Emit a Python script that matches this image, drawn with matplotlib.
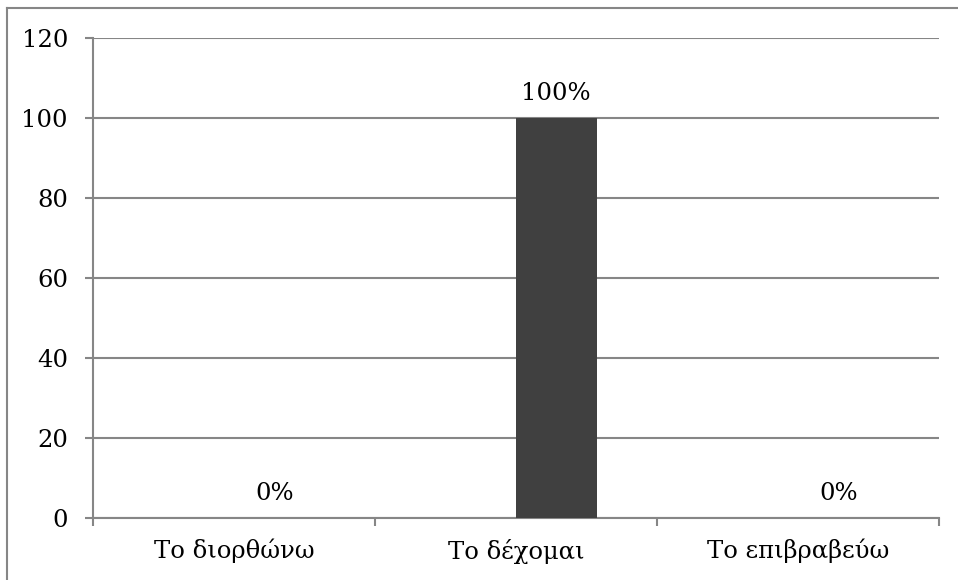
import matplotlib
matplotlib.use("Agg")
import matplotlib.pyplot as plt
from matplotlib.lines import Line2D

categories = ["Το διορθώνω", "Το δέχομαι", "Το επιβραβεύω"]
values = [0, 100, 0]
value_labels = ["0%", "100%", "0%"]
y_ticks = [0, 20, 40, 60, 80, 100, 120]

plt.rcParams["font.family"] = ["DejaVu Serif"]

W, H = 958, 580
FS = 17.5
fig = plt.figure(figsize=(W / 100, H / 100), dpi=100)
ax = fig.add_axes([93 / W, 1 - 518 / H, (939 - 93) / W, (518 - 38) / H])

grey = "#868686"
bar_w = 1 / 3.5
offset = bar_w / 2
xs = [i + offset for i in range(len(categories))]

ax.bar(xs, values, width=bar_w, color="#404040", zorder=3)
for x, v, lab in zip(xs, values, value_labels):
    ax.annotate(lab, (x, v), xytext=(0, 18), textcoords="offset points",
                ha="center", va="center", fontsize=FS, color="black")

ax.set_xlim(-0.5, len(categories) - 0.5)
ax.set_ylim(0, 120)
ax.set_yticks(y_ticks)
ax.set_yticklabels([str(t) for t in y_ticks], fontsize=FS)
ax.yaxis.grid(True, color=grey, linewidth=1.5, zorder=0)
ax.set_axisbelow(True)

# category labels centred, tick marks on category boundaries
ax.set_xticks(range(len(categories)))
ax.set_xticklabels(categories, fontsize=FS)
ax.tick_params(axis="x", which="major", length=0, pad=15)
ax.set_xticks([i - 0.5 for i in range(len(categories) + 1)], minor=True)
ax.tick_params(axis="x", which="minor", length=6, width=1.5, color=grey)
ax.tick_params(axis="y", length=6, width=1.5, color=grey, pad=12)

for s in ("top", "right"):
    ax.spines[s].set_visible(False)
for s in ("left", "bottom"):
    ax.spines[s].set_color(grey)
    ax.spines[s].set_linewidth(1.5)

# chart-area frame
fx0, fy0 = 7 / W, 1 - 8 / H
fig.add_artist(Line2D([fx0, 1.01], [fy0, fy0], transform=fig.transFigure,
                      color=grey, linewidth=1.5))
fig.add_artist(Line2D([fx0, fx0], [fy0, -0.01], transform=fig.transFigure,
                      color=grey, linewidth=1.5))

fig.savefig("out.png", dpi=100)
